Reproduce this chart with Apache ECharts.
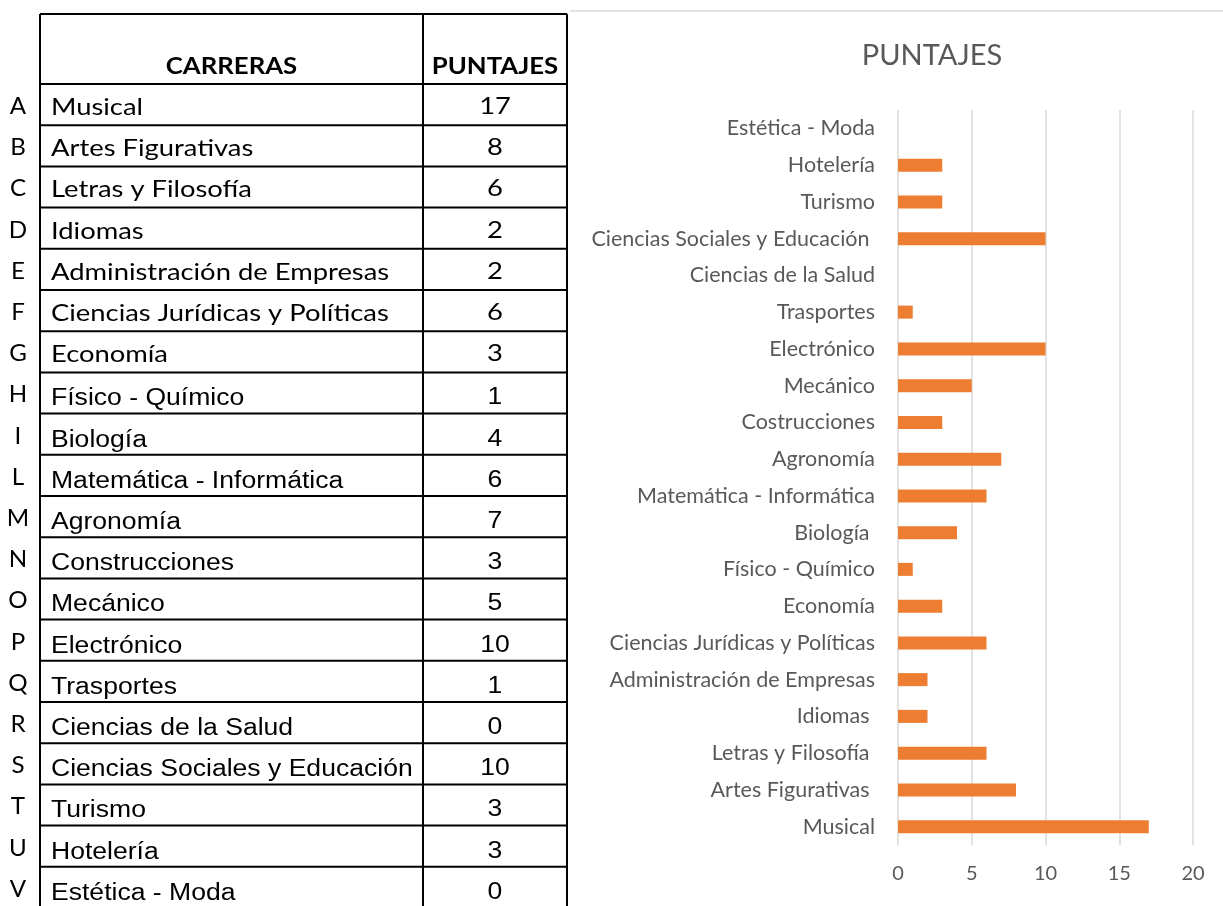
<!DOCTYPE html>
<html>
<head>
<meta charset="utf-8">
<script src="https://cdn.jsdelivr.net/npm/echarts@6/dist/echarts.min.js"></script>
<style>
  html, body { margin: 0; padding: 0; background: #fff; }
  #main { width: 1223px; height: 906px; }
</style>
</head>
<body>
<div id="main"></div>
<script>
// table data (top to bottom)
var letters = ["A","B","C","D","E","F","G","H","I","L","M","N","O","P","Q","R","S","T","U","V"];
var carreras = ["Musical","Artes Figurativas","Letras y Filosofía","Idiomas","Administración de Empresas",
  "Ciencias Jurídicas y Políticas","Economía","Físico - Químico","Biología","Matemática - Informática",
  "Agronomía","Construcciones","Mecánico","Electrónico","Trasportes","Ciencias de la Salud",
  "Ciencias Sociales y Educación","Turismo","Hotelería","Estética - Moda"];
var puntajes = [17, 8, 6, 2, 2, 6, 3, 1, 4, 6, 7, 3, 5, 10, 1, 0, 10, 3, 3, 0];

// chart categories, as labelled in the bar chart (bottom to top)
var chartLabels = ["Musical","Artes Figurativas ","Letras y Filosofía ","Idiomas ","Administración de Empresas",
  "Ciencias Jurídicas y Políticas","Economía","Físico - Químico","Biología ","Matemática - Informática",
  "Agronomía","Costrucciones","Mecánico","Electrónico","Trasportes","Ciencias de la Salud",
  "Ciencias Sociales y Educación ","Turismo","Hotelería","Estética - Moda"];
var chartValues = [17, 8, 6, 2, 2, 6, 3, 1, 4, 6, 7, 3, 5, 10, 1, 0, 10, 3, 3, 0];
var xTicks = [0, 5, 10, 15, 20];

var myChart = echarts.init(document.getElementById('main'));

// table drawn with graphic elements
var tLeft = 40, tRight = 567, tTop = 14, headBottom = 84, colDiv = 423, rowH = 41.2;
var lineStyle = { stroke: '#000', lineWidth: 2 };
var graphics = [];
function hline(y, x1, x2) {
  graphics.push({ type: 'line', shape: { x1: x1, y1: y, x2: x2, y2: y }, style: lineStyle });
}
function vline(x, y1, y2) {
  graphics.push({ type: 'line', shape: { x1: x, y1: y1, x2: x, y2: y2 }, style: lineStyle });
}
function txt(x, y, s, align, font, size, weight, sx) {
  graphics.push({ type: 'text', x: x, y: y, scaleX: sx || 1,
    style: { text: s, align: align, verticalAlign: 'middle', fontFamily: font,
      fontSize: size, fontWeight: weight || 'normal', fill: '#000' } });
}
var tBottom = headBottom + rowH * carreras.length;
hline(tTop, tLeft, tRight);
hline(headBottom, tLeft, tRight);
vline(tLeft, tTop, tBottom);
vline(colDiv, tTop, tBottom);
vline(tRight, tTop, tBottom);
for (var i = 1; i <= carreras.length; i++) hline(headBottom + rowH * i, tLeft, tRight);

txt((tLeft + colDiv) / 2, 67, 'CARRERAS', 'center', 'Lato', 23, 'bold', 1.12);
txt((colDiv + tRight) / 2, 67, 'PUNTAJES', 'center', 'Lato', 23, 'bold', 1.12);

carreras.forEach(function (name, i) {
  var cy = headBottom + rowH * i + rowH / 2;
  var calibri = i < 7;
  var fam = calibri ? 'Lato' : 'Liberation Sans';
  var fs = calibri ? 23 : 23.3;
  var sx = calibri ? 1.19 : 1.14;
  var dy = calibri ? 3 : 6;
  txt(18, cy + 2, letters[i], 'center', 'Lato', 23, 'normal', 1.05);
  txt(51, cy + dy, name, 'left', fam, fs, 'normal', sx);
  txt((colDiv + tRight) / 2, cy + dy - 1, String(puntajes[i]), 'center', fam, fs, 'normal', sx);
});

// chart frame top line
graphics.push({ type: 'line', shape: { x1: 570, y1: 11, x2: 1223, y2: 11 }, style: { stroke: '#D9D9D9', lineWidth: 1.5 } });

var option = {
  animation: false,
  backgroundColor: '#fff',
  title: {
    text: 'PUNTAJES',
    left: 927,
    top: 36,
    textAlign: 'center',
    textStyle: { fontFamily: 'Lato', fontWeight: 'normal', fontSize: 29, color: '#595959' }
  },
  graphic: graphics,
  grid: { left: 898, right: 30, top: 110, bottom: 61, containLabel: false },
  xAxis: {
    type: 'value',
    min: 0,
    max: 20,
    interval: 5,
    axisLine: { show: false },
    axisTick: { show: false },
    axisLabel: {
      color: '#595959', fontFamily: 'Lato', fontSize: 20, margin: 19,
      formatter: function (v) { return xTicks.indexOf(v) >= 0 ? String(v) : ''; }
    },
    splitLine: { lineStyle: { color: '#D9D9D9', width: 1.5 } }
  },
  yAxis: {
    type: 'category',
    data: chartLabels,
    axisLine: { show: false },
    axisTick: { show: false },
    axisLabel: { color: '#595959', fontFamily: 'Lato', fontSize: 21.5, margin: 23 }
  },
  series: [{
    type: 'bar',
    data: chartValues,
    barWidth: 13,
    itemStyle: { color: '#ED7D31' }
  }]
};

myChart.setOption(option);
</script>
</body>
</html>
